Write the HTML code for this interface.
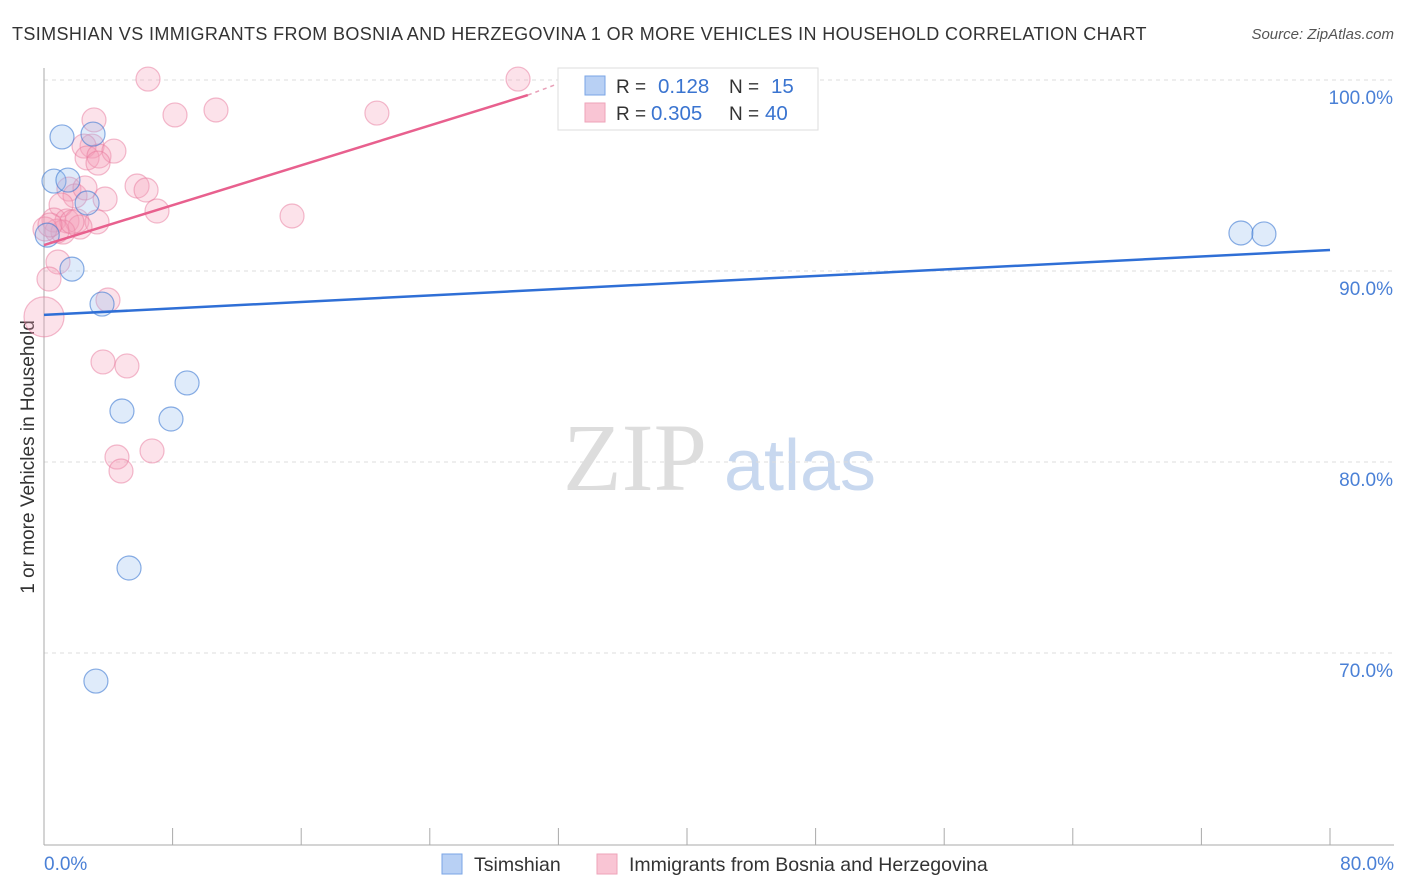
<!DOCTYPE html>
<html><head><meta charset="utf-8">
<style>
body{margin:0;background:#fff;font-family:"Liberation Sans",sans-serif;}
#wrap{position:relative;width:1406px;height:892px;overflow:hidden;}
</style></head>
<body>
<div id="wrap">
<svg id="svg" width="1406" height="892" xmlns="http://www.w3.org/2000/svg">
<text x="12" y="40" font-size="18" letter-spacing="0.38" fill="#333">TSIMSHIAN VS IMMIGRANTS FROM BOSNIA AND HERZEGOVINA 1 OR MORE VEHICLES IN HOUSEHOLD CORRELATION CHART</text>
<text x="1394" y="39" font-size="15" fill="#555" font-style="italic" text-anchor="end">Source: ZipAtlas.com</text>
<text x="34" y="457" font-size="19" fill="#333" text-anchor="middle" transform="rotate(-90 34 457)">1 or more Vehicles in Household</text>
<g>
<text x="635" y="490" font-size="96" font-family="Liberation Serif,serif" fill="#ddd" text-anchor="middle">ZIP</text>
<text x="800" y="490" font-size="72" fill="#c8d8ef" text-anchor="middle">atlas</text>
</g>
<g id="grid"></g>
<g id="axes"></g>
<g id="pts"></g>
<g id="lines"></g>
<g>
<rect x="558" y="68" width="260" height="62" fill="#fff" stroke="#ddd"/>
<rect x="585" y="76" width="20" height="19" fill="#b8d0f4" stroke="#7aa5e6"/>
<rect x="585" y="103" width="20" height="19" fill="#f9c5d4" stroke="#eea3b9"/>
<text x="616" y="93" font-size="19" fill="#333">R = </text><text x="658" y="93" font-size="20.5" fill="#3a74d0">0.128</text>
<text x="729" y="93" font-size="19" fill="#333">N = </text><text x="771" y="93" font-size="20.5" fill="#3a74d0">15</text>
<text x="616" y="120" font-size="19" fill="#333">R = </text><text x="651" y="120" font-size="20.5" fill="#3a74d0">0.305</text>
<text x="729" y="120" font-size="19" fill="#333">N = </text><text x="765" y="120" font-size="20.5" fill="#3a74d0">40</text>
</g>
<g>
<rect x="442" y="854" width="20" height="20" fill="#b8d0f4" stroke="#7aa5e6"/>
<text x="474" y="871" font-size="19.5" fill="#333">Tsimshian</text>
<rect x="597" y="854" width="20" height="20" fill="#f9c5d4" stroke="#eea3b9"/>
<text x="629" y="871" font-size="19.5" fill="#333">Immigrants from Bosnia and Herzegovina</text>
</g>
</svg>
</div>
<script>
const blueX=[1.12,0.62,1.49,2.68,3.05,0.2,1.74,3.61,8.90,4.85,7.90,5.29,3.23,74.46,75.89];
const blueY=[97.02,94.71,94.76,93.56,97.17,91.88,90.10,88.27,84.14,82.67,82.25,74.45,68.53,91.99,91.94];
const pinkX=[6.47,29.49,8.15,10.70,20.71,3.11,2.99,2.49,2.68,3.42,4.35,3.36,5.79,6.35,1.55,1.93,3.80,1.06,7.03,15.43,0.62,1.43,2.05,3.30,2.24,1.18,0.81,0.06,0.87,0.31,0,3.98,3.67,5.16,6.72,4.54,4.79,1.74,0.37,2.55];
const pinkY=[100.05,100.05,98.17,98.43,98.27,97.91,96.54,96.54,95.92,96.02,96.28,95.65,94.45,94.24,94.29,93.93,93.77,93.46,93.14,92.88,92.67,92.62,92.62,92.57,92.30,92.04,92.09,92.20,90.47,89.58,87.60,88.48,85.24,85.03,80.58,80.26,79.53,92.57,92.41,94.35];
const pinkR=[12,12,12,12,12,12,12,12,12,12,12,12,12,12,12,12,12,12,12,12,12,12,12,12,12,12,12,12,12,12,20,12,12,12,12,12,12,12,12,12];
const blueLine=[[0,87.70],[80,91.10]];
const pinkLine=[[0,91.36],[30.1,99.21]];
const pinkDash=[[30.1,99.21],[31.8,99.75]];
const yTicks=[100,90,80,70];
const xTicks=[0,8,16,24,32,40,48,56,64,72,80];
const NS='http://www.w3.org/2000/svg';
const X0=44,X1=1330,Y100=80,PX10=191;
const sx=v=>X0+(X1-X0)*v/80;
const sy=v=>Y100+(100-v)*PX10/10;
function mk(t,a,p){const e=document.createElementNS(NS,t);for(const k in a)e.setAttribute(k,a[k]);p.appendChild(e);return e;}
const grid=document.getElementById('grid'),axes=document.getElementById('axes'),pts=document.getElementById('pts'),lines=document.getElementById('lines');
yTicks.forEach(t=>{
  const l=mk('line',{x1:X0,x2:1394,y1:sy(t),y2:sy(t),stroke:'#ddd','stroke-dasharray':'4 4'},grid);
  
  
  const tx=mk('text',{x:1393,y:sy(t)+24,'font-size':19,fill:'#4a80d6','text-anchor':'end'},axes);
  tx.textContent=t.toFixed(1)+'%';
  
  
});
const ya=mk('line',{x1:X0,x2:X0,y1:68,y2:845,stroke:'#aaa'},axes);


const xa=mk('line',{x1:X0,x2:1394,y1:845,y2:845,stroke:'#aaa'},axes);


xTicks.forEach(t=>{
  const l=mk('line',{x1:sx(t),x2:sx(t),y1:828,y2:845,stroke:'#aaa'},axes);
  
  
});
[[0,'start'],[80,'end']].forEach(([t,a])=>{
  const tx=mk('text',{x:t===0?44:1394,y:870,'font-size':19,fill:'#4a80d6','text-anchor':a},axes);
  tx.textContent=t.toFixed(1)+'%';
  
  
});
pinkX.forEach((v,i)=>{
  const c=mk('circle',{cx:sx(v),cy:sy(pinkY[i]),r:pinkR[i],fill:'rgba(244,160,185,0.3)',stroke:'rgba(232,120,155,0.5)','stroke-width':1.2},pts);
  
  
});
blueX.forEach((v,i)=>{
  const c=mk('circle',{cx:sx(v),cy:sy(blueY[i]),r:12,fill:'rgba(150,190,240,0.3)',stroke:'rgba(60,120,210,0.6)','stroke-width':1.2},pts);
  
  
});
const bl=mk('line',{x1:sx(blueLine[0][0]),y1:sy(blueLine[0][1]),x2:sx(blueLine[1][0]),y2:sy(blueLine[1][1]),stroke:'#2f6fd6','stroke-width':2.5},lines);


const pl=mk('line',{x1:sx(pinkLine[0][0]),y1:sy(pinkLine[0][1]),x2:sx(pinkLine[1][0]),y2:sy(pinkLine[1][1]),stroke:'#e8608e','stroke-width':2.5},lines);


const pd=mk('line',{x1:sx(pinkDash[0][0]),y1:sy(pinkDash[0][1]),x2:sx(pinkDash[1][0]),y2:sy(pinkDash[1][1]),stroke:'#e8a0b8','stroke-width':1.5,'stroke-dasharray':'4 4'},lines);


</script>
</body></html>
